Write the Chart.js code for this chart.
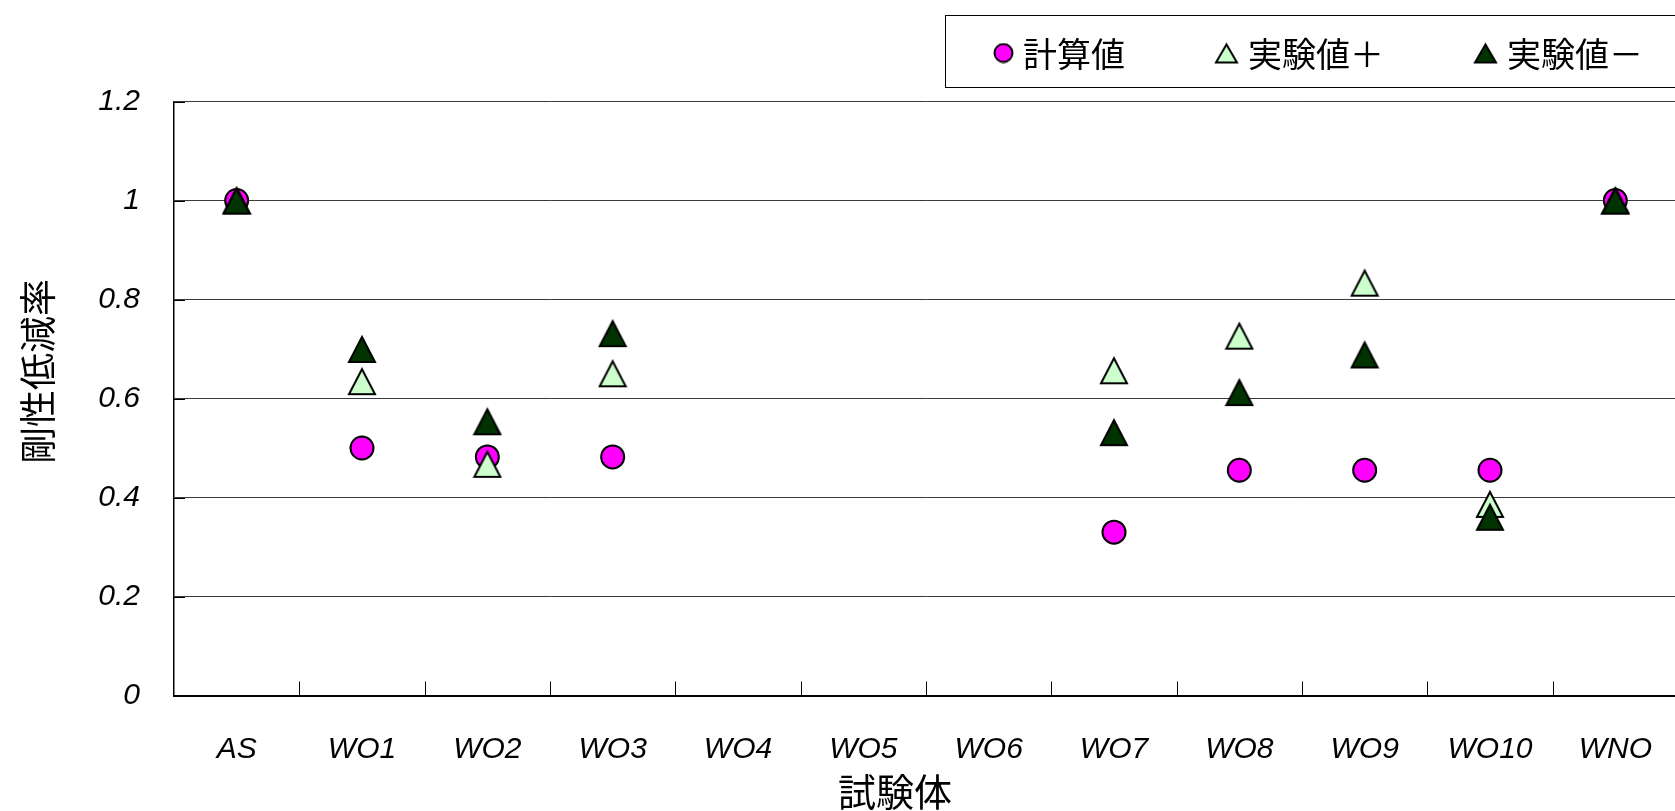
<!DOCTYPE html>
<html>
<head>
<meta charset="utf-8">
<title>剛性低減率</title>
<style>
  html, body { margin: 0; padding: 0; overflow: hidden; background: #fff; }
  #wrap { position: relative; width: 1720px; height: 811px; }
</style>
<script src="https://cdn.jsdelivr.net/npm/chart.js"></script>
</head>
<body>
<div id="wrap"><canvas id="stiffChart"></canvas></div>
<script>
  // data
  const categories = ["AS", "WO1", "WO2", "WO3", "WO4", "WO5", "WO6", "WO7", "WO8", "WO9", "WO10", "WNO"];
  const calcValues = [1.0, 0.5, 0.482, 0.482, null, null, null, 0.33, 0.455, 0.455, 0.455, 1.0];
  const expPlus = [1.0, 0.635, 0.468, 0.651, null, null, null, 0.657, 0.727, 0.834, 0.387, 1.0];
  const expMinus = [1.0, 0.70, 0.554, 0.732, null, null, null, 0.532, 0.613, 0.689, 0.361, 1.0];
  const seriesNames = ["計算値", "実験値＋", "実験値－"];
  const yTickLabels = ["0", "0.2", "0.4", "0.6", "0.8", "1", "1.2"];
  const xTitle = "試験体";
  const yTitle = "剛性低減率";

  const cjkFont = '"Noto Sans CJK JP", "Noto Sans CJK SC", sans-serif';
  const tickFont = { family: '"Liberation Sans", Arial, sans-serif', size: 30, style: "italic" };

  function triangleMarker(w, h, fill) {
    const c = document.createElement("canvas");
    c.width = w;
    c.height = h;
    const g = c.getContext("2d");
    g.beginPath();
    g.moveTo(w / 2, 3);
    g.lineTo(w - 2, h - 2);
    g.lineTo(2, h - 2);
    g.closePath();
    g.fillStyle = fill;
    g.fill();
    g.lineWidth = 2;
    g.strokeStyle = "#000";
    g.stroke();
    return c;
  }

  function circleMarker(d, fill) {
    const c = document.createElement("canvas");
    c.width = d;
    c.height = d;
    const g = c.getContext("2d");
    g.beginPath();
    g.arc(d / 2, d / 2, d / 2 - 1.5, 0, Math.PI * 2);
    g.fillStyle = fill;
    g.fill();
    g.lineWidth = 2;
    g.strokeStyle = "#000";
    g.stroke();
    return c;
  }

  const lightTri = triangleMarker(30, 30, "#CCFFCC");
  const darkTri = triangleMarker(30, 30, "#003300");
  const legendMarkers = [
    circleMarker(21, "#FF00FF"),
    triangleMarker(25, 23, "#CCFFCC"),
    triangleMarker(25, 23, "#003300"),
  ];

  // legend in a box at the top right, like the original
  const boxLegend = {
    id: "boxLegend",
    afterDraw(chart) {
      const ctx = chart.ctx;
      ctx.save();
      ctx.strokeStyle = "#000";
      ctx.lineWidth = 1;
      ctx.strokeRect(945.5, 15.5, 900, 72);
      ctx.font = "34px " + cjkFont;
      ctx.textBaseline = "middle";
      ctx.fillStyle = "#000";
      let cx = 993;
      const cy = 53;
      chart.data.datasets.forEach((ds, i) => {
        const img = legendMarkers[i];
        ctx.drawImage(img, cx, cy - img.height / 2);
        cx += img.width + 9;
        ctx.fillText(ds.label, cx, cy + 1);
        cx += ctx.measureText(ds.label).width + 89;
      });
      ctx.restore();
    },
  };

  // axis titles, sitting a little left of / above the plot centre as in the original
  const axisTitles = {
    id: "axisTitles",
    afterDraw(chart) {
      const { ctx, chartArea } = chart;
      ctx.save();
      ctx.fillStyle = "#000";
      ctx.textAlign = "center";
      ctx.textBaseline = "middle";
      ctx.font = "38px " + cjkFont;
      ctx.fillText(xTitle, (chartArea.left + chartArea.right) / 2 - 31, 792);
      ctx.translate(38, (chartArea.top + chartArea.bottom) / 2 - 27);
      ctx.rotate(-Math.PI / 2);
      ctx.font = "37px " + cjkFont;
      ctx.fillText(yTitle, 0, 0);
      ctx.restore();
    },
  };

  // short tick marks drawn inside the plot area
  const insideTicks = {
    id: "insideTicks",
    afterDraw(chart) {
      const { ctx, scales: { x, y } } = chart;
      ctx.save();
      ctx.strokeStyle = "#000";
      ctx.lineWidth = 1;
      for (let i = 1; i < categories.length; i++) {
        const px = Math.round((x.getPixelForValue(i - 1) + x.getPixelForValue(i)) / 2) + 0.5;
        ctx.beginPath();
        ctx.moveTo(px, y.bottom);
        ctx.lineTo(px, y.bottom - 14);
        ctx.stroke();
      }
      y.ticks.forEach((t, i) => {
        const py = Math.round(y.getPixelForTick(i)) + 0.5;
        ctx.beginPath();
        ctx.moveTo(x.left, py);
        ctx.lineTo(x.left + 11, py);
        ctx.stroke();
      });
      ctx.restore();
    },
  };

  const ctx = document.getElementById("stiffChart");

  new Chart(ctx, {
    type: "line",
    data: {
      labels: categories,
      datasets: [
        {
          label: seriesNames[0],
          data: calcValues,
          showLine: false,
          pointStyle: "circle",
          pointRadius: 11.5,
          pointHoverRadius: 11.5,
          pointBackgroundColor: "#FF00FF",
          pointBorderColor: "#000",
          pointBorderWidth: 2,
          order: 2,
        },
        {
          label: seriesNames[1],
          data: expPlus,
          showLine: false,
          pointStyle: lightTri,
          pointRadius: 14,
          order: 1,
        },
        {
          label: seriesNames[2],
          data: expMinus,
          showLine: false,
          pointStyle: darkTri,
          pointRadius: 14,
          order: 0,
        },
      ],
    },

    options: {
      responsive: true,
      maintainAspectRatio: false,
      animation: false,
      layout: {
        padding: { top: 101.5, right: 42, bottom: 0, left: 0 },
      },

      plugins: {
        legend: { display: false },
        tooltip: { enabled: false },
      },

      scales: {
        x: {
          offset: true,
          grid: { display: false },
          border: { display: true, color: "#000", width: 2 },
          ticks: {
            color: "#000",
            font: tickFont,
            padding: 28,
            autoSkip: false,
            maxRotation: 0,
          },
          afterFit(scale) {
            scale.height = 115.5;
          },
        },
        y: {
          min: 0,
          max: 1.2,
          grid: { color: "#3a3a3a", lineWidth: 1, drawTicks: false },
          border: { display: true, color: "#000", width: 1.5 },
          ticks: {
            stepSize: 0.2,
            color: "#000",
            font: tickFont,
            padding: 34,
            callback: function (value, index) {
              return yTickLabels[index];
            },
          },
          afterFit(scale) {
            scale.width = 174;
          },
        },
      },
    },
    plugins: [boxLegend, axisTitles, insideTicks],
  });
</script>
</body>
</html>
